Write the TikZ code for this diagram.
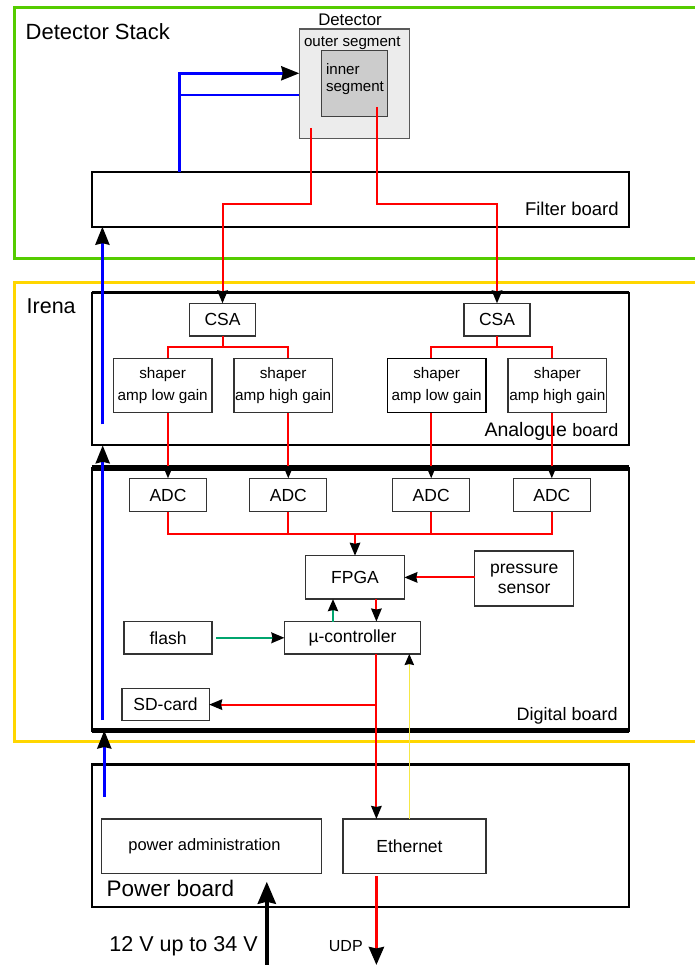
\documentclass[tikz,border=0pt]{standalone}
\usepackage{fontspec}
\setmainfont{Liberation Sans}
\usetikzlibrary{arrows.meta,calc}
\definecolor{grn}{RGB}{85,204,0}
\definecolor{gold}{RGB}{255,214,0}
\definecolor{rd}{RGB}{255,0,0}
\definecolor{bl}{RGB}{0,0,255}
\definecolor{tealg}{RGB}{0,165,110}
\definecolor{ylw}{RGB}{245,232,70}
\definecolor{outerg}{RGB}{236,236,236}
\definecolor{innerg}{RGB}{204,204,204}
\begin{document}
\begin{tikzpicture}[x=1pt,y=-1pt,
  board/.style={draw=black, line width=2pt, inner sep=0pt, outer sep=0pt, minimum width=537.2},
  blk/.style={draw=black!80, line width=1.3pt, inner sep=0pt, outer sep=0pt, align=center,
              font=\fontsize{17.5}{20}\selectfont},
  shp/.style={blk, minimum width=98.6, minimum height=54.4, font=\fontsize{15.3}{21.6}\selectfont},
  adc/.style={blk, minimum width=77, minimum height=33.4},
  lbl/.style={inner sep=0pt, outer sep=0pt},
  sig/.style={rd, line width=2pt},
  tip/.style={-{Stealth[inset=1pt,length=13pt,width=10.5pt,color=black]}},
  btip/.style={-{Stealth[inset=1.5pt,length=18pt,width=14pt,color=black]}},
  bwire/.style={bl, line width=3pt},
]
\useasboundingbox (0,0) rectangle (694,965);

% containers
\draw[grn, line width=3pt] (696,7.5) -- (14.6,7.5) -- (14.6,259) -- (696,259);
\draw[gold, line width=3pt] (696,282.5) -- (14.7,282.5) -- (14.7,741.5) -- (696,741.5);
\node[lbl, anchor=base west, font=\fontsize{22}{24}\selectfont] (dstack) at (25.7,40) {Detector Stack};
\node[lbl, anchor=base west, font=\fontsize{21.5}{24}\selectfont] (irena) at (26.7,313.3) {Irena};

% detector
\node[draw=black!65, line width=1.3pt, fill=outerg, minimum width=110, minimum height=109.7, inner sep=0pt, outer sep=0pt] (detout) at (354.3,83.9) {};
\node[draw=black!75, line width=1.3pt, fill=innerg, minimum width=66, minimum height=66, inner sep=0pt, outer sep=0pt] (detin) at (354.3,83.7) {};
\node[lbl, anchor=base, font=\fontsize{16.8}{20}\selectfont] (dett) at (350,25.5) {Detector};
\node[lbl, anchor=base, font=\fontsize{15.1}{18}\selectfont] (outt) at (352.3,46.5) {outer segment};
\node[lbl, anchor=base west, font=\fontsize{15.1}{18}\selectfont] (inn1) at (326,75) {inner};
\node[lbl, anchor=base west, font=\fontsize{15.1}{18}\selectfont] (inn2) at (326,91.7) {segment};

% boards
\node[board, minimum height=55] (filter) at (360.3,199.2) {};
\node[lbl, anchor=base east, font=\fontsize{18.5}{22}\selectfont] (filtl) at (618.6,216) {Filter board};

\node[board, minimum height=152.6] (ana) at (360.1,369) {};
\draw[line width=3.5pt] (ana.north west) -- (ana.north east);
\node[lbl, anchor=base east] (anal) at (618.4,436) {\fontsize{19.5}{22}\selectfont Analogue \fontsize{18}{22}\selectfont board};

\node[board, minimum height=262.2] (dig) at (360.1,599.4) {};
\draw[line width=6pt] (dig.north west) -- (dig.north east);
\draw[line width=5pt] (dig.south west) -- (dig.south east);
\node[lbl, anchor=base east, font=\fontsize{18}{22}\selectfont] (digl) at (617.6,720) {Digital board};

\node[board, minimum height=142.4] (pwr) at (360.1,835.5) {};
\draw[line width=3.5pt] (pwr.north west) -- (pwr.north east);
\node[lbl, anchor=base west, font=\fontsize{22.5}{26}\selectfont] (pwrl) at (106.6,896.7) {Power board};

% analogue blocks
\node[blk, minimum width=65.8, minimum height=32.7] (c1) at (222.5,319.7) {CSA};
\node[blk, minimum width=65.8, minimum height=32.7] (c2) at (497,319.7) {CSA};
\node[shp] (s1) at (162.7,385.5) {shaper\\amp low gain};
\node[shp] (s2) at (283.2,385.5) {shaper\\amp high gain};
\node[shp, draw=black] (s3) at (436.7,385.5) {shaper\\amp low gain};
\node[shp] (s4) at (557.3,385.5) {shaper\\amp high gain};

% digital blocks
\node[adc] (a1) at (168,495) {ADC};
\node[adc] (a2) at (288.3,495) {ADC};
\node[adc] (a3) at (431.2,495) {ADC};
\node[adc] (a4) at (551.8,495) {ADC};
\node[blk, minimum width=98.7, minimum height=43.3] (fp) at (355,577.4) {FPGA};
\node[blk, minimum width=99, minimum height=55] (ps) at (524.2,578.4) {pressure\\sensor};
\node[blk, minimum width=136, minimum height=32.5] (mc) at (352.5,637.8) {µ-controller};
\node[blk, minimum width=88, minimum height=32.6] (fl) at (168,637.8) {flash};
\node[blk, minimum width=87.3, minimum height=32.3] (sd) at (165.5,704.6) {SD-card};

% power blocks
\node[blk, minimum width=220, minimum height=54.7, font=\fontsize{16.5}{20}\selectfont] (padm) at (211.5,846.3) {power administration\hspace*{14pt}};
\node[blk, minimum width=143, minimum height=54.7] (eth) at (414.5,846.3) {Ethernet\hspace*{10pt}};

% coordinates for free ends
\coordinate (bj) at (179.6,0);
\coordinate (o1) at (311,128);
\coordinate (i1) at (377,107);
\coordinate (rx) at (376.4,0);
\coordinate (gx) at (333,0);
\coordinate (yx) at (409.3,0);
\coordinate (b1) at (102.4,424.3);
\coordinate (b2) at (102.7,720);
\coordinate (b3) at (104.3,796.7);
\coordinate (pw) at (266.8,968);
\coordinate (udp) at (376.4,965);

% blue bias lines
\draw[bwire, btip] (bj |- filter.north) -- (bj |- 0,73.3) -- (detout.west |- 0,73.3);
\draw[bl, line width=1.4pt] (bj |- 0,95) -- (detout.west |- 0,95);
\draw[bwire, btip] (b1) -- (b1 |- filter.south);
\draw[bwire, btip] (b2) -- (b2 |- ana.south);
\draw[bwire, btip] (b3) -- (b3 |- dig.south);

% detector signals
\draw[sig, tip] (o1) -- (o1 |- 0,204.3) -| (c1.north);
\draw[sig, tip] (i1) -- (i1 |- 0,204.3) -| (c2.north);

% CSA to shapers
\draw[sig] (c1.south) -- (c1 |- 0,347.3);
\draw[sig] (a1 |- s1.north) -- (a1 |- 0,347.3) -- (a2 |- 0,347.3) -- (a2 |- s2.north);
\draw[sig] (c2.south) -- (c2 |- 0,347.3);
\draw[sig] (a3 |- s3.north) -- (a3 |- 0,347.3) -- (a4 |- 0,347.3) -- (a4 |- s4.north);

% shapers to ADCs
\draw[sig, tip] (a1 |- s1.south) -- (a1.north);
\draw[sig, tip] (a2 |- s2.south) -- (a2.north);
\draw[sig, tip] (a3 |- s3.south) -- (a3.north);
\draw[sig, tip] (a4 |- s4.south) -- (a4.north);

% ADC bus
\draw[sig] (a1.south) -- (a1 |- 0,534) -- (a4 |- 0,534) -- (a4.south);
\draw[sig] (a2.south) -- (a2 |- 0,534);
\draw[sig] (a3.south) -- (a3 |- 0,534);
\draw[sig, tip] (fp.north |- 0,534) -- (fp.north);

% digital connections
\draw[sig, tip] (ps.west |- fp.east) -- (fp.east);
\draw[tealg, line width=2.5pt, -{Stealth[inset=1pt,length=12pt,width=10pt,color=black]}] (gx |- mc.north) -- (gx |- fp.south);
\draw[sig, tip] (rx |- fp.south) -- (rx |- mc.north);
\draw[tealg, line width=2.5pt, -{Stealth[inset=1pt,length=13pt,width=10.5pt,color=black]}] ([xshift=4.3pt]fl.east) -- (mc.west);
\draw[sig, tip] (rx |- sd.east) -- (sd.east);
\draw[sig, tip] (rx |- mc.south) -- (rx |- eth.north);
\draw[ylw, line width=1pt, -{Stealth[inset=1pt,length=11pt,width=9.5pt,color=black]}] (yx |- eth.north) -- (yx |- mc.south);

% outputs / supply
\draw[rd, line width=3.5pt, -{Stealth[inset=1.5pt,length=18pt,width=15pt,color=black]}] ([yshift=-2.5pt]rx |- eth.south) -- (udp);
\node[lbl, anchor=base east, font=\fontsize{16}{19}\selectfont] (udpl) at (362.7,951.7) {UDP};
\draw[black, line width=4pt, -{Stealth[inset=2pt,length=22pt,width=18pt]}] (pw) -- (pw |- 0,881.7);
\node[lbl, anchor=base west, font=\fontsize{21.5}{24}\selectfont] (volt) at (109.4,951.7) {12 V up to 34 V};
\end{tikzpicture}
\end{document}
